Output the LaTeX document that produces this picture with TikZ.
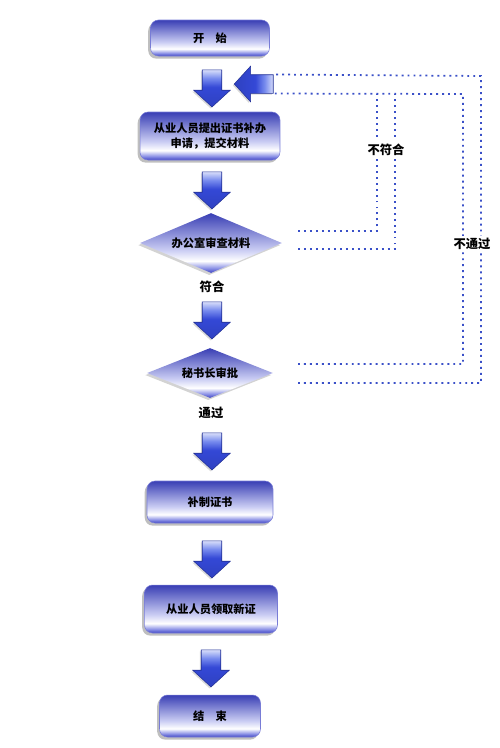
\documentclass[tikz,border=0pt]{standalone}
\usepackage{fontspec}
\setmainfont{Noto Sans CJK SC}
\usetikzlibrary{shapes.geometric,shapes.arrows,shadows,positioning}
\definecolor{flowblue}{RGB}{62,68,196}
\definecolor{flowlight}{RGB}{140,146,230}
\definecolor{arrowblue}{RGB}{52,72,214}
\definecolor{arrowlight}{RGB}{120,140,238}
\definecolor{dotblue}{RGB}{58,80,200}
\pgfdeclareverticalshading{glassbox}{100bp}{color(0bp)=(flowblue); color(25bp)=(flowblue); color(29bp)=(flowlight); color(35bp)=(white); color(44bp)=(white!55!flowlight); color(75bp)=(flowblue!92!black); color(100bp)=(flowblue!92!black)}
\pgfdeclareverticalshading{glassarrow}{100bp}{color(0bp)=(arrowblue); color(25bp)=(arrowblue!90!black); color(52bp)=(arrowblue); color(64bp)=(arrowlight); color(75bp)=(white!70!arrowlight); color(100bp)=(white!70!arrowlight)}

\begin{document}
\begin{tikzpicture}[x=0.02cm, y=-0.02cm,
  font=\fontsize{6.4}{8.5}\selectfont\bfseries,
  stepbox/.style={rectangle, rounded corners=0.16cm, shading=glassbox,
    draw=flowblue!70, line width=0.3pt, inner sep=0pt, align=center,
    drop shadow={shadow xshift=-1.3pt, shadow yshift=-1.5pt, opacity=0.5}},
  checkbox/.style={diamond, shading=glassbox, inner sep=0pt,
    drop shadow={shadow xshift=-1pt, shadow yshift=-1.2pt, opacity=0.35}},
  downarrow/.style={single arrow, shading=glassarrow, draw=arrowblue!70!black,
    line width=0.3pt, inner sep=0.19cm, minimum height=0.74cm,
    single arrow head extend=0.17cm, single arrow tip angle=95,
    shape border rotate=270,
    drop shadow={shadow xshift=-0.8pt, shadow yshift=-0.8pt, opacity=0.3}},
  feedback/.style={dotblue, line width=1pt, dash pattern=on 1.1pt off 2.3pt},
  cond/.style={fill=white, inner sep=1.5pt, font=\fontsize{7}{8}\selectfont\bfseries}]

\useasboundingbox (0,0) rectangle (500,748);

% ---- Main column ----
\node[stepbox, minimum width=2.38cm, minimum height=0.72cm] (start) at (210,38) {开\quad 始};
\node[downarrow] (dn1) at (212,84) {};
\node[stepbox, minimum width=2.8cm, minimum height=0.96cm] (apply) at (210,136)
  {从业人员提出证书补办\\申请，提交材料};
\node[downarrow] (dn2) at (212,186) {};
\node[checkbox, minimum width=2.84cm, minimum height=1.2cm, aspect=2.37] (check) at (211,243) {办公室审查材料};
\node[cond, fill=none] (ok1) at (212,287) {符合};
\node[downarrow] (dn3) at (212,316) {};
\node[checkbox, minimum width=2.52cm, minimum height=1.0cm, aspect=2.5] (approve) at (210,373) {秘书长审批};
\node[cond, fill=none] (ok2) at (211,413) {通过};
\node[downarrow] (dn4) at (212,447) {};
\node[stepbox, minimum width=2.52cm, minimum height=0.84cm] (remake) at (210,502) {补制证书};
\node[downarrow] (dn5) at (212,555) {};
\node[stepbox, minimum width=2.66cm, minimum height=0.96cm] (collect) at (211,609) {从业人员领取新证};
\node[downarrow] (dn6) at (211,664) {};
\node[stepbox, minimum width=2.02cm, minimum height=0.84cm] (finish) at (210,716) {结\quad 束};

% ---- Return arrow ----
\node[downarrow, shape border rotate=180, minimum height=0.78cm, inner sep=0.18cm,
  shading angle=-90] (back) at (258,84) {};

% ---- Feedback lines ----
\coordinate (chkA) at (298,231);
\coordinate (chkB) at (298,249);
\coordinate (aprA) at (298,364);
\coordinate (aprB) at (298,383);
\coordinate (jA) at (377,94);
\coordinate (jB) at (395,94);
\coordinate (jC) at (463,94);
\coordinate (jD) at (481,76);

\draw[feedback] (chkA) -| (jA);
\draw[feedback] (chkB) -| (jB);
\draw[feedback] (aprA) -| (jC) -- (back.after tail);
\draw[feedback] (aprB) -| (jD) -- (back.before tail);

\node[cond] (no1) at (386,150) {不符合};
\node[cond] (no2) at (472,244) {不通过};

\end{tikzpicture}
\end{document}
